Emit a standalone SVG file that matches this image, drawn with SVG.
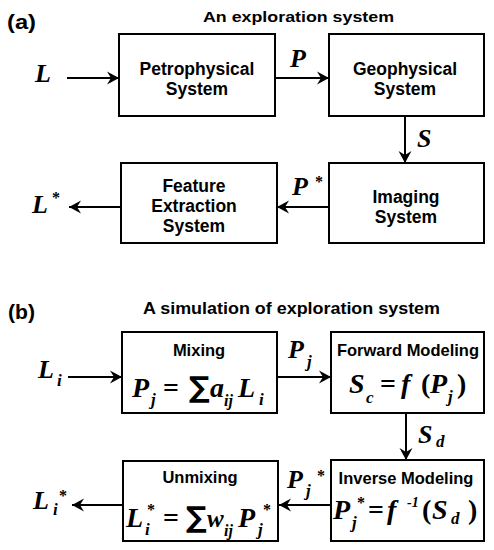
<svg xmlns="http://www.w3.org/2000/svg" width="494" height="550" viewBox="0 0 494 550">
<style>
.box{fill:#fff;stroke:#000;stroke-width:2}
.lbl{font-family:"Liberation Sans",Arial,sans-serif;font-weight:bold;text-anchor:middle;fill:#000}
.ttl{font-family:"Liberation Sans",Arial,sans-serif;font-weight:bold;fill:#000}
.m{font-family:"Liberation Serif","Times New Roman",serif;font-weight:bold;font-style:italic;fill:#000}
.up{font-style:normal}
.st{font-family:"Liberation Serif","Times New Roman",serif;font-weight:bold;font-style:normal}
.sum{font-family:"DejaVu Sans",sans-serif;font-weight:bold;font-style:normal}
.conn line{stroke:#000;stroke-width:2;marker-end:url(#ah)}
</style>
<defs>
<marker id="ah" markerUnits="userSpaceOnUse" markerWidth="14" markerHeight="14" refX="12" refY="6.5" orient="auto" viewBox="0 0 14 13">
<path d="M0,0 L12,6.5 L0,13 L4,6.5 Z" fill="#000"/>
</marker>
</defs>
<rect width="494" height="550" fill="#fff"/>

<text class="ttl" x="7" y="29" font-size="21" textLength="29" lengthAdjust="spacingAndGlyphs">(a)</text>
<text class="ttl" x="203" y="22" font-size="15.5" textLength="191" lengthAdjust="spacingAndGlyphs">An exploration system</text>
<text class="ttl" x="8" y="319" font-size="21" textLength="27" lengthAdjust="spacingAndGlyphs">(b)</text>
<text class="ttl" x="143" y="314" font-size="16.5" textLength="297" lengthAdjust="spacingAndGlyphs">A simulation of exploration system</text>

<g id="connectors" class="conn">
<line x1="67" y1="78" x2="119" y2="78"/>
<line x1="275" y1="78" x2="329" y2="78"/>
<line x1="405" y1="116" x2="405" y2="163"/>
<line x1="329" y1="207" x2="277" y2="207"/>
<line x1="121" y1="207" x2="69" y2="207"/>
<line x1="68" y1="377" x2="122" y2="377"/>
<line x1="277" y1="377" x2="331" y2="377"/>
<line x1="406" y1="413" x2="406" y2="460"/>
<line x1="331" y1="505" x2="279" y2="505"/>
<line x1="123" y1="505" x2="72" y2="505"/>
</g>

<g id="edge-labels">
<text class="m" x="35" y="82" font-size="26">L</text>
<text class="m" x="290" y="67" font-size="26">P</text>
<text class="m" x="417" y="147" font-size="26">S</text>
<text class="m" font-size="26"><tspan x="292" y="195">P</tspan><tspan class="st" x="315" y="187" font-size="16">*</tspan></text>
<text class="m" font-size="26"><tspan x="32" y="213">L</tspan><tspan class="st" x="52" y="203" font-size="16">*</tspan></text>
<text class="m" font-size="26"><tspan x="38" y="378">L</tspan><tspan x="57" y="386" font-size="17">i</tspan></text>
<text class="m" font-size="26"><tspan x="288" y="358">P</tspan><tspan x="307" y="367" font-size="17">j</tspan></text>
<text class="m" font-size="26"><tspan x="418" y="443">S</tspan><tspan x="436" y="447" font-size="17">d</tspan></text>
<text class="m" font-size="26"><tspan x="287" y="488">P</tspan><tspan x="306" y="496" font-size="17">j</tspan><tspan class="st" x="317" y="481" font-size="16">*</tspan></text>
<text class="m" font-size="26"><tspan x="33" y="509">L</tspan><tspan x="53" y="515" font-size="17">i</tspan><tspan class="st" x="59" y="501" font-size="16">*</tspan></text>
</g>

<g id="petrophysical">
<rect class="box" x="119" y="34" width="156" height="82"/>
<text class="lbl" x="197" y="75" font-size="17.5">Petrophysical</text>
<text class="lbl" x="197" y="95" font-size="17.5">System</text>
</g>
<g id="geophysical">
<rect class="box" x="329" y="34" width="155" height="82"/>
<text class="lbl" x="405" y="75" font-size="17.5">Geophysical</text>
<text class="lbl" x="405" y="95" font-size="17.5">System</text>
</g>
<g id="imaging">
<rect class="box" x="329" y="163" width="155" height="80"/>
<text class="lbl" x="406" y="203" font-size="17.5">Imaging</text>
<text class="lbl" x="406" y="223" font-size="17.5">System</text>
</g>
<g id="feature">
<rect class="box" x="121" y="163" width="156" height="80"/>
<text class="lbl" x="194" y="192" font-size="17.5">Feature</text>
<text class="lbl" x="194" y="212" font-size="17.5">Extraction</text>
<text class="lbl" x="194" y="232" font-size="17.5">System</text>
</g>

<g id="mixing">
<rect class="box" x="122" y="332" width="155" height="81"/>
<text class="lbl" x="199" y="356" font-size="16.5">Mixing</text>
<text class="m" font-size="28"><tspan x="132" y="397">P</tspan><tspan x="151" y="405" font-size="17">j</tspan><tspan class="up" x="163" y="397">=</tspan><tspan class="sum" x="189" y="397" font-size="29">∑</tspan><tspan x="210" y="397">a</tspan><tspan x="224" y="406" font-size="16">ij</tspan><tspan x="238" y="397">L</tspan><tspan x="259" y="405" font-size="17">i</tspan></text>
</g>
<g id="forward">
<rect class="box" x="331" y="332" width="153" height="81"/>
<text class="lbl" x="408" y="356" font-size="16.5">Forward Modeling</text>
<text class="m" font-size="28"><tspan x="349" y="393">S</tspan><tspan x="366" y="403" font-size="17">c</tspan><tspan class="up" x="380" y="393">=</tspan><tspan x="401" y="393">f</tspan><tspan class="up" x="421" y="393">(</tspan><tspan x="430" y="393">P</tspan><tspan x="448" y="402" font-size="17">j</tspan><tspan class="up" x="457" y="393">)</tspan></text>
</g>
<g id="inverse">
<rect class="box" x="331" y="460" width="153" height="81"/>
<text class="lbl" x="406" y="484" font-size="16.5">Inverse Modeling</text>
<text class="m" font-size="28"><tspan x="333" y="519">P</tspan><tspan x="352" y="528" font-size="17">j</tspan><tspan class="st" x="357" y="508" font-size="16">*</tspan><tspan class="up" x="368" y="519">=</tspan><tspan x="387" y="519">f</tspan><tspan x="407" y="507" font-size="14">-1</tspan><tspan class="up" x="422" y="519">(</tspan><tspan x="432" y="519">S</tspan><tspan x="451" y="524" font-size="17">d</tspan><tspan class="up" x="468" y="519">)</tspan></text>
</g>
<g id="unmixing">
<rect class="box" x="123" y="461" width="155" height="80"/>
<text class="lbl" x="200" y="483" font-size="16.5">Unmixing</text>
<text class="m" font-size="28"><tspan x="126" y="527">L</tspan><tspan x="145" y="535" font-size="17">i</tspan><tspan class="st" x="147" y="515" font-size="16">*</tspan><tspan class="up" x="163" y="527">=</tspan><tspan class="sum" x="186" y="527" font-size="29">∑</tspan><tspan x="207" y="527" font-size="25">w</tspan><tspan x="224" y="536" font-size="16">ij</tspan><tspan x="238" y="527">P</tspan><tspan x="258" y="535" font-size="17">j</tspan><tspan class="st" x="263" y="515" font-size="16">*</tspan></text>
</g>
</svg>
